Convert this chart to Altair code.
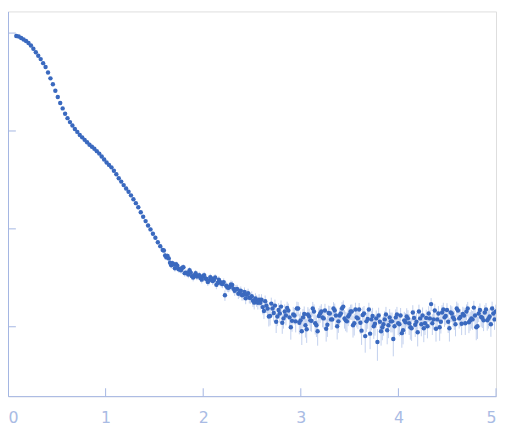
import altair as alt
import pandas as pd

# scattering vector q (nm^-1), main frames
q = [0.085,0.11,0.135,0.16,0.185,0.21,0.235,0.26,0.285,0.31,
     0.335,0.36,0.385,0.41,0.435,0.46,0.485,0.51,0.535,0.56,
     0.585,0.61,0.635,0.66,0.685,0.71,0.735,0.76,0.785,0.81,
     0.835,0.86,0.885,0.91,0.935,0.96,0.985,1.01,1.035,1.06,
     1.085,1.11,1.135,1.16,1.185,1.21,1.235,1.26,1.285,1.31,
     1.335,1.36,1.385,1.41,1.435,1.46,1.485,1.51,1.535,1.56,
     1.585,1.61,1.635,1.66,1.685,1.71,1.735,1.76,1.785,1.81,
     1.835,1.86,1.885,1.91,1.935,1.96,1.985,2.01,2.035,2.06,
     2.085,2.11,2.135,2.16,2.185,2.21,2.235,2.26,2.285,2.31,
     2.335,2.36,2.385,2.41,2.435,2.46,2.485,2.51,2.535,2.56,
     2.585,2.61,2.635,2.66,2.685,2.71,2.735,2.76,2.785,2.81,
     2.835,2.86,2.885,2.91,2.935,2.96,2.985,3.01,3.035,3.06,
     3.085,3.11,3.135,3.16,3.185,3.21,3.235,3.26,3.285,3.31,
     3.335,3.36,3.385,3.41,3.435,3.46,3.485,3.51,3.535,3.56,
     3.585,3.61,3.635,3.66,3.685,3.71,3.735,3.76,3.785,3.81,
     3.835,3.86,3.885,3.91,3.935,3.96,3.985,4.01,4.035,4.06,
     4.085,4.11,4.135,4.16,4.185,4.21,4.235,4.26,4.285,4.31,
     4.335,4.36,4.385,4.41,4.435,4.46,4.485,4.51,4.535,4.56,
     4.585,4.61,4.635,4.66,4.685,4.71,4.735,4.76,4.785,4.81,
     4.835,4.86,4.885,4.91,4.935,4.96,4.985]

intensity = [0.933,0.922,0.891,0.860,0.831,0.793,0.748,0.691,0.636,0.587,
     0.542,0.493,0.450,0.396,0.345,0.300,0.258,0.222,0.193,0.170,
     0.150,0.1352,0.1232,0.1136,0.1047,0.0978,0.0912,0.0861,0.0812,0.0766,
     0.0723,0.0690,0.0659,0.0622,0.0587,0.0548,0.0512,0.0477,0.0450,0.0425,
     0.0392,0.0361,0.0329,0.0304,0.0280,0.0258,0.0239,0.0220,0.0201,0.0183,
     0.0166,0.0148,0.0133,0.0120,0.01083,0.00988,0.00890,0.00812,0.00731,0.00666,
     0.00608,0.00535,0.00529,0.00450,0.00445,0.00396,0.00420,0.00387,0.00401,0.00353,
     0.00353,0.00378,0.00329,0.00337,0.00326,0.00337,0.00303,0.00337,0.00307,0.00296,
     0.00311,0.00300,0.00268,0.00303,0.00277,0.00286,0.00262,0.00250,0.00271,0.00244,
     0.00241,0.00217,0.00233,0.00212,0.00195,0.00220,0.00198,0.00184,0.00195,0.00176,
     0.00176,
     0.001588,0.001825,0.001534,0.001290,0.001534,0.001645,0.001275,0.001367,0.001097,0.001431,
     0.001552,0.001246,0.001149,0.001305,0.001534,0.001097,0.000901,0.001351,0.000944,0.001275,
     0.001149,0.001431,0.001035,0.001290,0.001431,0.001217,0.000955,0.001383,0.001189,0.001534,
     0.001305,0.001136,0.001367,0.001607,0.001162,0.001275,0.001431,0.001035,0.001499,0.001217,
     0.001097,0.001320,0.000803,0.001203,0.000850,0.001290,0.001072,0.000699,0.001123,0.000988,
     0.001189,0.000922,0.001246,0.001136,0.001011,0.001335,0.001059,0.000860,0.001162,0.001275,
     0.001084,0.000966,0.001231,0.001123,0.001431,0.001059,0.000966,0.001231,0.001367,0.001703,
     0.001189,0.000955,0.001367,0.001123,0.001499,0.001290,0.001123,0.001399,0.001246,0.001059,
     0.001465,0.001260,0.001351,0.001084,0.001534,0.001162,0.001189,0.001305,0.001011,0.001482,
     0.001231,0.001399,0.001162,0.001275,0.001534,0.001189]

sigma = [0.0042,0.0041,0.0040,0.0039,0.0038,0.0037,0.0036,0.0035,0.0034,0.0033,
     0.0032,0.0031,0.0030,0.0028,0.0027,0.0026,0.0025,0.0024,0.0023,0.0022,
     0.0021,0.0020,0.0019,0.0019,0.0018,0.0018,0.0017,0.0017,0.0016,0.0016,
     0.0015,0.0015,0.0015,0.0014,0.0014,0.0013,0.0013,0.0013,0.0012,0.0012,
     0.0011,0.0011,0.0010,0.0010,0.00095,0.00090,0.00085,0.00080,0.00076,0.00072,
     0.00068,0.00064,0.00060,0.00056,0.00052,0.00049,0.00046,0.00043,0.00040,0.00038,
     0.00036,0.00034,0.00033,0.00032,0.00031,0.00030,0.00030,0.00029,0.00029,0.00028,
     0.00028,0.00028,0.00027,0.00027,0.00027,0.00027,0.00026,0.00027,0.00026,0.00026,
     0.00026,0.00027,0.00026,0.00026,0.00025,0.00026,0.00026,0.00025,0.00026,0.00025,
     0.00026,0.00025,0.00025,0.00026,0.00025,0.00025,0.00026,0.00025,0.00025,0.00026,
     0.00026,0.00025,0.00026,0.00025,0.00026,0.00026,0.00025,0.00026,0.00027,0.00025,
     0.00026,0.00025,0.00026,0.00026,0.00025,0.00027,0.00026,0.00025,0.00026,0.00026,
     0.00025,0.00026,0.00026,0.00025,0.00026,0.00027,0.00026,0.00025,0.00026,0.00026,
     0.00025,0.00026,0.00027,0.00026,0.00025,0.00026,0.00026,0.00025,0.00026,0.00026,
     0.00027,0.00025,0.00026,0.00026,0.00025,0.00026,0.00027,0.00026,0.00025,0.00026,
     0.00026,0.00025,0.00026,0.00027,0.00026,0.00025,0.00026,0.00026,0.00025,0.00026,
     0.00027,0.00026,0.00025,0.00026,0.00026,0.00025,0.00026,0.00027,0.00026,0.00025,
     0.00026,0.00026,0.00025,0.00026,0.00027,0.00026,0.00025,0.00026,0.00026,0.00025,
     0.00026,0.00027,0.00026,0.00025,0.00026,0.00026,0.00025,0.00026,0.00027,0.00026,
     0.00025,0.00026,0.00026,0.00025,0.00026,0.00027,0.00026]

# interleaved frames at higher q
q2 = [1.5975,1.6225,1.6475,1.6725,1.6975,1.7225,1.7475,1.7725,1.7975,1.8225,
     1.8475,1.8725,1.8975,1.9225,1.9475,1.9725,1.9975,2.0225,2.0475,2.0725,
     2.0975,2.1225,2.1475,2.1725,2.1975,2.2225,2.2475,2.2725,2.2975,2.3225,
     2.3475,2.3725,2.3975,2.4225,2.4475,2.4725,2.4975,2.5225,2.5475,2.5725,
     2.5975,2.6225,2.6475,2.6725,2.6975,2.7225,2.7475,2.7725,2.7975,2.8225,
     2.8475,2.8725,2.8975,2.9225,2.9475,2.9725,2.9975,3.0225,3.0475,3.0725,
     3.0975,3.1225,3.1475,3.1725,3.1975,3.2225,3.2475,3.2725,3.2975,3.3225,
     3.3475,3.3725,3.3975,3.4225,3.4475,3.4725,3.4975,3.5225,3.5475,3.5725,
     3.5975,3.6225,3.6475,3.6725,3.6975,3.7225,3.7475,3.7725,3.7975,3.8225,
     3.8475,3.8725,3.8975,3.9225,3.9475,3.9725,3.9975,4.0225,4.0475,4.0725,
     4.0975,4.1225,4.1475,4.1725,4.1975,4.2225,4.2475,4.2725,4.2975,4.3225,
     4.3475,4.3725,4.3975,4.4225,4.4475,4.4725,4.4975,4.5225,4.5475,4.5725,
     4.5975,4.6225,4.6475,4.6725,4.6975,4.7225,4.7475,4.7725,4.7975,4.8225,
     4.8475,4.8725,4.8975,4.9225,4.9475,4.9725,4.9975]

intensity2 = [0.006010,0.005111,0.004994,0.004247,0.004347,0.004347,0.003872,0.003783,0.004055,0.003570,
     0.003409,0.003570,0.003180,0.003529,0.003293,0.003144,0.003293,0.003108,0.002866,0.003217,
     0.002933,0.003180,0.002800,0.002866,0.002736,0.002097,0.002523,0.002553,0.002674,0.002327,
     0.002437,0.002248,0.002097,0.002274,0.002121,0.001979,0.002049,0.001763,0.001846,0.001890,
     0.001890,0.001448,0.001645,0.001275,0.001723,0.001383,0.001123,0.001482,0.001607,0.001217,
     0.001305,0.001465,0.000988,0.001335,0.001136,0.001534,0.001162,0.001246,0.001035,0.001335,
     0.001162,0.001534,0.001084,0.000901,0.001367,0.001246,0.001465,0.001047,0.001367,0.001189,
     0.001465,0.001011,0.001305,0.001534,0.001217,0.001136,0.001335,0.001431,0.001084,0.001246,
     0.001499,0.000912,0.001367,0.001136,0.001499,0.001189,0.001011,0.001217,0.001305,0.000901,
     0.001059,0.001335,0.001035,0.001136,0.000749,0.001246,0.001084,0.001305,0.000922,0.001110,
     0.001217,0.000988,0.001399,0.001047,0.000880,0.001217,0.001305,0.001084,0.001011,0.001217,
     0.001084,0.001465,0.001189,0.000988,0.001399,0.001246,0.001482,0.000966,0.001367,0.001189,
     0.001534,0.001217,0.001072,0.001305,0.001431,0.001110,0.001217,0.001570,0.000988,0.001367,
     0.001260,0.001162,0.001499,0.001217,0.001059,0.001367,0.001431]

sigma2 = [0.00035,0.00033,0.00032,0.00031,0.00030,0.00030,0.00029,0.00029,0.00028,0.00028,
     0.00028,0.00027,0.00027,0.00027,0.00027,0.00026,0.00026,0.00027,0.00026,0.00026,
     0.00026,0.00026,0.00026,0.00025,0.00026,0.00026,0.00025,0.00026,0.00025,0.00026,
     0.00025,0.00026,0.00025,0.00025,0.00026,0.00025,0.00025,0.00026,0.00025,0.00026,
     0.00026,0.00025,0.00026,0.00027,0.00026,0.00025,0.00026,0.00026,0.00025,0.00026,
     0.00027,0.00026,0.00025,0.00026,0.00026,0.00025,0.00026,0.00027,0.00026,0.00025,
     0.00026,0.00026,0.00025,0.00026,0.00027,0.00026,0.00025,0.00026,0.00026,0.00025,
     0.00026,0.00027,0.00026,0.00025,0.00026,0.00026,0.00025,0.00026,0.00027,0.00026,
     0.00025,0.00026,0.00026,0.00025,0.00026,0.00027,0.00026,0.00025,0.00026,0.00026,
     0.00025,0.00026,0.00027,0.00026,0.00025,0.00026,0.00026,0.00025,0.00026,0.00027,
     0.00026,0.00025,0.00026,0.00026,0.00025,0.00026,0.00027,0.00026,0.00025,0.00026,
     0.00026,0.00025,0.00026,0.00027,0.00026,0.00025,0.00026,0.00026,0.00025,0.00026,
     0.00027,0.00026,0.00025,0.00026,0.00026,0.00025,0.00026,0.00027,0.00026,0.00025,
     0.00026,0.00026,0.00025,0.00026,0.00027,0.00026,0.00025]

x_tick_values = [0, 1, 2, 3, 4, 5]
y_tick_values = [1, 0.1, 0.01, 0.001]
y_domain = [0.0001955, 1.664]

df = pd.concat([
    pd.DataFrame({"q": q, "I": intensity, "s": sigma}),
    pd.DataFrame({"q": q2, "I": intensity2, "s": sigma2}),
], ignore_index=True).sort_values("q")
df["lo"] = df["I"] - df["s"]
df["hi"] = df["I"] + df["s"]

W, H = 496, 391
AXIS = "#a3b6e2"

xscale = alt.Scale(domain=[0, 5], nice=False, zero=False)
yscale = alt.Scale(type="log", domain=y_domain, nice=False)

xaxis = alt.Axis(values=x_tick_values, format="d", ticks=False, tickSize=0, grid=False,
                 domainColor=AXIS, labelColor="#a9bbe4", labelFontSize=16,
                 labelFont="DejaVu Sans", labelPadding=14, title=None,
                 labelAlign={"expr": "datum.value == 0 ? 'left' : (datum.value == 5 ? 'right' : 'center')"},
                 labelOverlap=False)
yaxis = alt.Axis(ticks=False, labels=False, grid=False, domainColor=AXIS, title=None)

base = alt.Chart(df)

errbars = base.mark_rule(color="#c2d0ee", strokeWidth=1, clip=True).encode(
    x=alt.X("q:Q", scale=xscale, axis=xaxis),
    y=alt.Y("lo:Q", scale=yscale, axis=yaxis),
    y2="hi:Q",
)

points = base.mark_circle(size=20, color="#3a69bf", opacity=1, clip=True).encode(
    x=alt.X("q:Q", scale=xscale),
    y=alt.Y("I:Q", scale=yscale),
)

xt = alt.Chart(pd.DataFrame({"t": x_tick_values})).mark_rule(color=AXIS, strokeWidth=1).encode(
    x=alt.X("t:Q", scale=xscale),
    y=alt.value(H), y2=alt.value(H - 8),
)
yt = alt.Chart(pd.DataFrame({"t": y_tick_values})).mark_rule(color=AXIS, strokeWidth=1).encode(
    y=alt.Y("t:Q", scale=yscale),
    x=alt.value(0), x2=alt.value(8),
)

chart = alt.layer(errbars, points, xt, yt).properties(
    width=W, height=H,
    autosize=alt.AutoSizeParams(type="none"),
    padding={"left": 0, "top": 0, "right": 1, "bottom": 36},
).configure_view(stroke=None).configure(background="white")

chart.save("out.html", embed_options={"renderer": "svg", "actions": False})
